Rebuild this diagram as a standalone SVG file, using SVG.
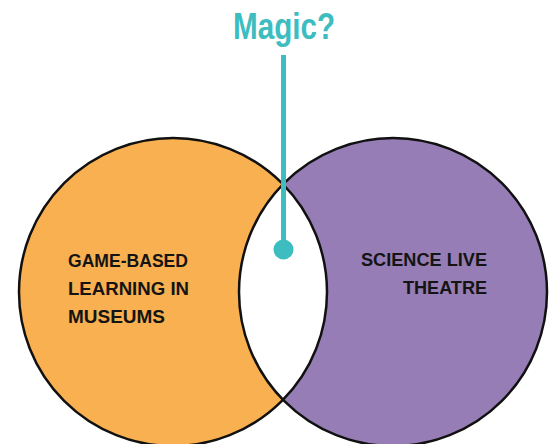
<svg xmlns="http://www.w3.org/2000/svg" width="550" height="444" viewBox="0 0 550 444">
  <style>
    .outline { fill: none; stroke: #111; stroke-width: 2.5; }
    .label { font-family: "Liberation Sans", Arial, sans-serif; font-weight: bold; font-size: 19px; fill: #141414; }
    .title { font-family: "Liberation Sans", Arial, sans-serif; font-weight: bold; font-size: 36px; fill: #3DBDBF; }
  </style>
  <rect width="550" height="444" fill="#ffffff"/>
  <g id="left-set">
    <circle cx="173" cy="292" r="154" fill="#F9B050"/>
  </g>
  <g id="right-set">
    <circle cx="393" cy="292" r="154" fill="#967DB5"/>
  </g>
  <g id="overlap">
    <path d="M283,184 A154,154 0 0,0 283,400 A154,154 0 0,0 283,184 Z" fill="#ffffff"/>
  </g>
  <g id="outlines">
    <circle class="outline" cx="173" cy="292" r="154"/>
    <circle class="outline" cx="393" cy="292" r="154"/>
  </g>
  <g id="left-label">
    <text class="label" x="68" y="267" textLength="120" lengthAdjust="spacingAndGlyphs">GAME-BASED</text>
    <text class="label" x="68" y="295" textLength="121" lengthAdjust="spacingAndGlyphs">LEARNING IN</text>
    <text class="label" x="68" y="323" textLength="97" lengthAdjust="spacingAndGlyphs">MUSEUMS</text>
  </g>
  <g id="right-label">
    <text class="label" x="361" y="266" textLength="126" lengthAdjust="spacingAndGlyphs">SCIENCE LIVE</text>
    <text class="label" x="403" y="294" textLength="84" lengthAdjust="spacingAndGlyphs">THEATRE</text>
  </g>
  <g id="connectors">
    <line x1="283.5" y1="55" x2="283.5" y2="249" stroke="#3DBDBF" stroke-width="5"/>
    <circle cx="283.5" cy="249.5" r="10" fill="#3DBDBF"/>
  </g>
  <g id="magic">
    <text class="title" x="233" y="39" textLength="102" lengthAdjust="spacingAndGlyphs">Magic?</text>
  </g>
</svg>
